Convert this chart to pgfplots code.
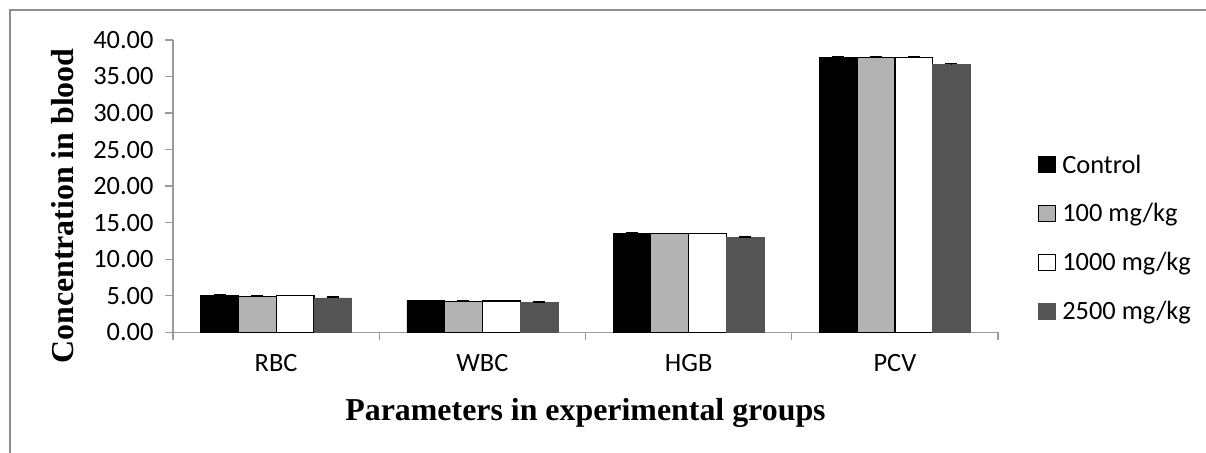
\documentclass[border=0pt]{standalone}
\usepackage{pgfplots}
\pgfplotsset{compat=1.18}
\usepackage{fontspec}
\setmainfont{Liberation Serif}
\newfontfamily\calibri{Carlito}
\definecolor{gA}{HTML}{B3B3B3}
\definecolor{gB}{HTML}{545454}
\definecolor{axgray}{HTML}{9A9A9A}
\definecolor{framegray}{HTML}{8E8E8E}
\begin{document}
\begin{tikzpicture}[x=1bp,y=1bp]
\useasboundingbox (0,0) rectangle (1206,453);
\draw[framegray, line width=1.5bp] (9.8,0) -- (9.8,443) -- (1206,443);
\begin{axis}[
  at={(173bp,120.7bp)}, anchor=south west,
  scale only axis, width=825bp, height=292.3bp,
  xmin=-0.5, xmax=3.5, ymin=0, ymax=40,
  axis x line=bottom, axis y line=left,
  axis line style={-, draw=axgray, line width=1.3bp},
  tick style={draw=axgray, line width=1.3bp},
  tick align=outside,
  major tick length=8bp, minor tick length=8bp,
  xtick={0,1,2,3}, xticklabels={RBC,WBC,HGB,PCV},
  major x tick style={draw=none},
  minor xtick={-0.5,0.5,1.5,2.5,3.5},
  ytick={0,5,...,40},
  /pgf/number format/fixed, /pgf/number format/fixed zerofill,
  /pgf/number format/precision=2, /pgf/number format/assume math mode=true,
  tick label style={font=\calibri\fontsize{26.5}{30}\selectfont},
  yticklabel style={xshift=-8bp},
  xticklabel style={yshift=-11bp},
  xlabel={Parameters in experimental groups},
  ylabel={Concentration in blood},
  label style={font=\bfseries\fontsize{32}{36}\selectfont},
  xlabel style={at={(axis description cs:0.5,-0.275)}, anchor=center},
  ylabel style={at={(axis description cs:-0.134,0.432)}, anchor=center},
  ybar, bar width=37.75bp,
  legend style={at={(axis description cs:1.045,0.622)}, anchor=north west, draw=none,
    font=\calibri\fontsize{26.5}{30}\selectfont, row sep=25bp, column sep=4bp,
    nodes={inner sep=2bp}},
  legend cell align=left,
  legend image code/.code={\draw[#1, line width=1bp] (0bp,-8bp) rectangle (17bp,8bp);},
  error bars/y dir=plus, error bars/y explicit,
  error bars/error mark options={rotate=90, mark size=6bp, line width=1.5bp, black},
  error bars/error bar style={line width=1.5bp, black},
]
\addplot[fill=black, draw=black, bar shift=-56.6bp] coordinates {(0,5.05) +- (0,0.05) (1,4.33) +- (0,0.05) (2,13.55) +- (0,0.05) (3,37.65) +- (0,0.05)};
\addplot[fill=gA, draw=black, line width=1.2bp, bar shift=-18.9bp] coordinates {(0,4.95) +- (0,0.08) (1,4.25) +- (0,0.05) (2,13.50) +- (0,0.05) (3,37.65) +- (0,0.05)};
\addplot[fill=white, draw=black, line width=1.2bp, bar shift=18.9bp] coordinates {(0,4.98) +- (0,0.06) (1,4.27) +- (0,0.05) (2,13.50) +- (0,0.05) (3,37.65) +- (0,0.05)};
\addplot[fill=gB, draw=gB, bar shift=56.6bp] coordinates {(0,4.72) +- (0,0.1) (1,4.05) +- (0,0.1) (2,12.95) +- (0,0.1) (3,36.68) +- (0,0.1)};
\legend{Control,100 mg/kg,1000 mg/kg,2500 mg/kg}
\end{axis}
\end{tikzpicture}
\end{document}
